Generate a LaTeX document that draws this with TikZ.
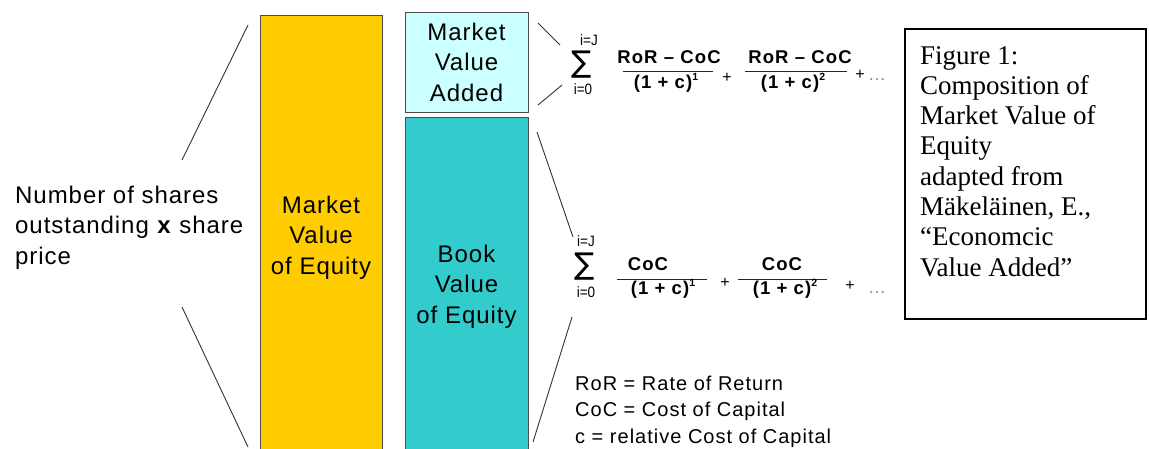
\documentclass[tikz,border=0pt]{standalone}
\usepackage{fontspec}
\setmainfont{Liberation Sans}
\newfontfamily\bigf[LetterSpace=4]{Liberation Sans}
\newfontfamily\frmf[LetterSpace=6]{Liberation Sans}
\newfontfamily\narf[FakeStretch=0.9]{Liberation Sans}
\newfontfamily\legf[LetterSpace=5]{Liberation Sans}
\newfontfamily\capf{Liberation Serif}
\newfontfamily\symf{DejaVu Sans}
\definecolor{mvey}{HTML}{FFCC00}
\definecolor{mvac}{HTML}{CCFFFF}
\definecolor{bvt}{HTML}{33CCCC}
\newcommand{\mysup}[1]{\raisebox{0.42em}{\fontsize{10.5}{10.5}\selectfont #1}}
\begin{document}
\begin{tikzpicture}[x=1pt,y=-1pt,
 lnk/.style={line width=0.9pt, draw=black!80},
 colbox/.style={draw=black!70, line width=1.2pt, inner sep=0pt, anchor=north west},
 bigtext/.style={font=\bigf\fontsize{24}{30.5}\selectfont, inner sep=0pt},
 frm/.style={font=\frmf\bfseries\fontsize{18.5}{20}\selectfont, inner sep=0pt, anchor=base},
 lim/.style={font=\narf\fontsize{15}{15}\selectfont, inner sep=0pt},
 sig/.style={font=\symf\fontsize{30}{30}\selectfont, inner sep=0pt},
 pls/.style={font=\fontsize{16}{16}\selectfont, inner sep=0pt},
 dts/.style={font=\fontsize{18}{18}\selectfont, text=black!45, inner sep=0pt},
 fbar/.style={line width=1pt, draw=black!85},
 leg/.style={font=\legf\fontsize{20}{26.7}\selectfont, inner sep=0pt, align=left, anchor=west},
 captxt/.style={font=\capf\fontsize{27}{30.3}\selectfont, inner sep=0pt, align=left, anchor=west}]

\useasboundingbox (0,0) rectangle (1149,448);
\fill[white] (0,0) rectangle (1149,448);

% coloured bars
\node[colbox, fill=mvey, minimum width=122pt, minimum height=440pt] (mve) at (260,15) {};
\node[colbox, fill=mvac, minimum width=123pt, minimum height=100pt] (mva) at (405,12) {};
\node[colbox, fill=bvt, minimum width=123pt, minimum height=335pt] (bve) at (405,117) {};

\node[bigtext, align=center] (mvet) at (321,237.4) {\strut Market\\\strut Value\\\strut of Equity};
\node[bigtext, align=center] (mvat) at (466.5,64.4) {\strut Market\\\strut Value\\\strut Added};
\node[bigtext, align=center] (bvet) at (466.5,286.4) {\strut Book\\\strut Value\\\strut of Equity};
\node[bigtext, align=left, anchor=west] (nos) at (15,227.4) {\strut Number of shares\\\strut outstanding \textbf{x} share\\\strut price};

% bracket lines
\coordinate (a1) at (182,160); \coordinate (a2) at (248,25);
\coordinate (b1) at (182,307); \coordinate (b2) at (248,447);
\draw[lnk] (a1) -- (a2);
\draw[lnk] (b1) -- (b2);
\coordinate (c1) at (538,23); \coordinate (c2) at (560,45);
\coordinate (d1) at (562,85); \coordinate (d2) at (538,105);
\draw[lnk] (c1) -- (c2);
\draw[lnk] (d1) -- (d2);
\coordinate (e1) at (537,132); \coordinate (e2) at (573,237);
\coordinate (g1) at (572,317); \coordinate (g2) at (533,442);
\draw[lnk] (e1) -- (e2);
\draw[lnk] (g1) -- (g2);

% formula 1
\node[lim] (f1up) at (589,40) {i=J};
\node[sig] (f1sig) at (582,65) {∑};
\node[lim] (f1lo) at (583,89) {i=0};
\node[frm] (f1n1) at (669,63) {RoR – CoC};
\coordinate (f1b1l) at (623,71); \coordinate (f1b1r) at (713,71);
\draw[fbar] (f1b1l) -- (f1b1r);
\node[frm] (f1d1) at (666,88.5) {(1 + c)\mysup{1}};
\node[pls] (f1p1) at (727,78) {+};
\node[frm] (f1n2) at (800,63) {RoR – CoC};
\coordinate (f1b2l) at (745,71); \coordinate (f1b2r) at (847,71);
\draw[fbar] (f1b2l) -- (f1b2r);
\node[frm] (f1d2) at (793,88.5) {(1 + c)\mysup{2}};
\node[pls] (f1p2) at (860,75) {+};
\node[dts] (f1dt) at (877,80) {…};

% formula 2
\node[lim] (f2up) at (586,241) {i=J};
\node[sig] (f2sig) at (585,267) {∑};
\node[lim] (f2lo) at (586,292) {i=0};
\node[frm] (f2n1) at (648,270) {CoC};
\coordinate (f2b1l) at (617,279); \coordinate (f2b1r) at (707,279);
\draw[fbar] (f2b1l) -- (f2b1r);
\node[frm] (f2d1) at (663,294) {(1 + c)\mysup{1}};
\node[pls] (f2p1) at (725,283) {+};
\node[frm] (f2n2) at (782,270) {CoC};
\coordinate (f2b2l) at (738,279); \coordinate (f2b2r) at (827,279);
\draw[fbar] (f2b2l) -- (f2b2r);
\node[frm] (f2d2) at (785,294) {(1 + c)\mysup{2}};
\node[pls] (f2p2) at (850,286) {+};
\node[dts] (f2dt) at (877,293) {…};

% legend
\node[leg] (legend) at (575,411.4) {\strut RoR = Rate of Return\\\strut CoC = Cost of Capital\\\strut c = relative Cost of Capital};

% caption
\node[draw=black, line width=1.5pt, minimum width=241pt, minimum height=290pt, anchor=north west, inner sep=0pt] (capbox) at (904,28) {};
\node[captxt] (captext) at (920,164) {\strut Figure 1:\\\strut Composition of\\\strut Market Value of\\\strut Equity\\\strut adapted from\\\strut Mäkeläinen, E.,\\\strut “Economcic\\\strut Value Added”};
\end{tikzpicture}
\end{document}
